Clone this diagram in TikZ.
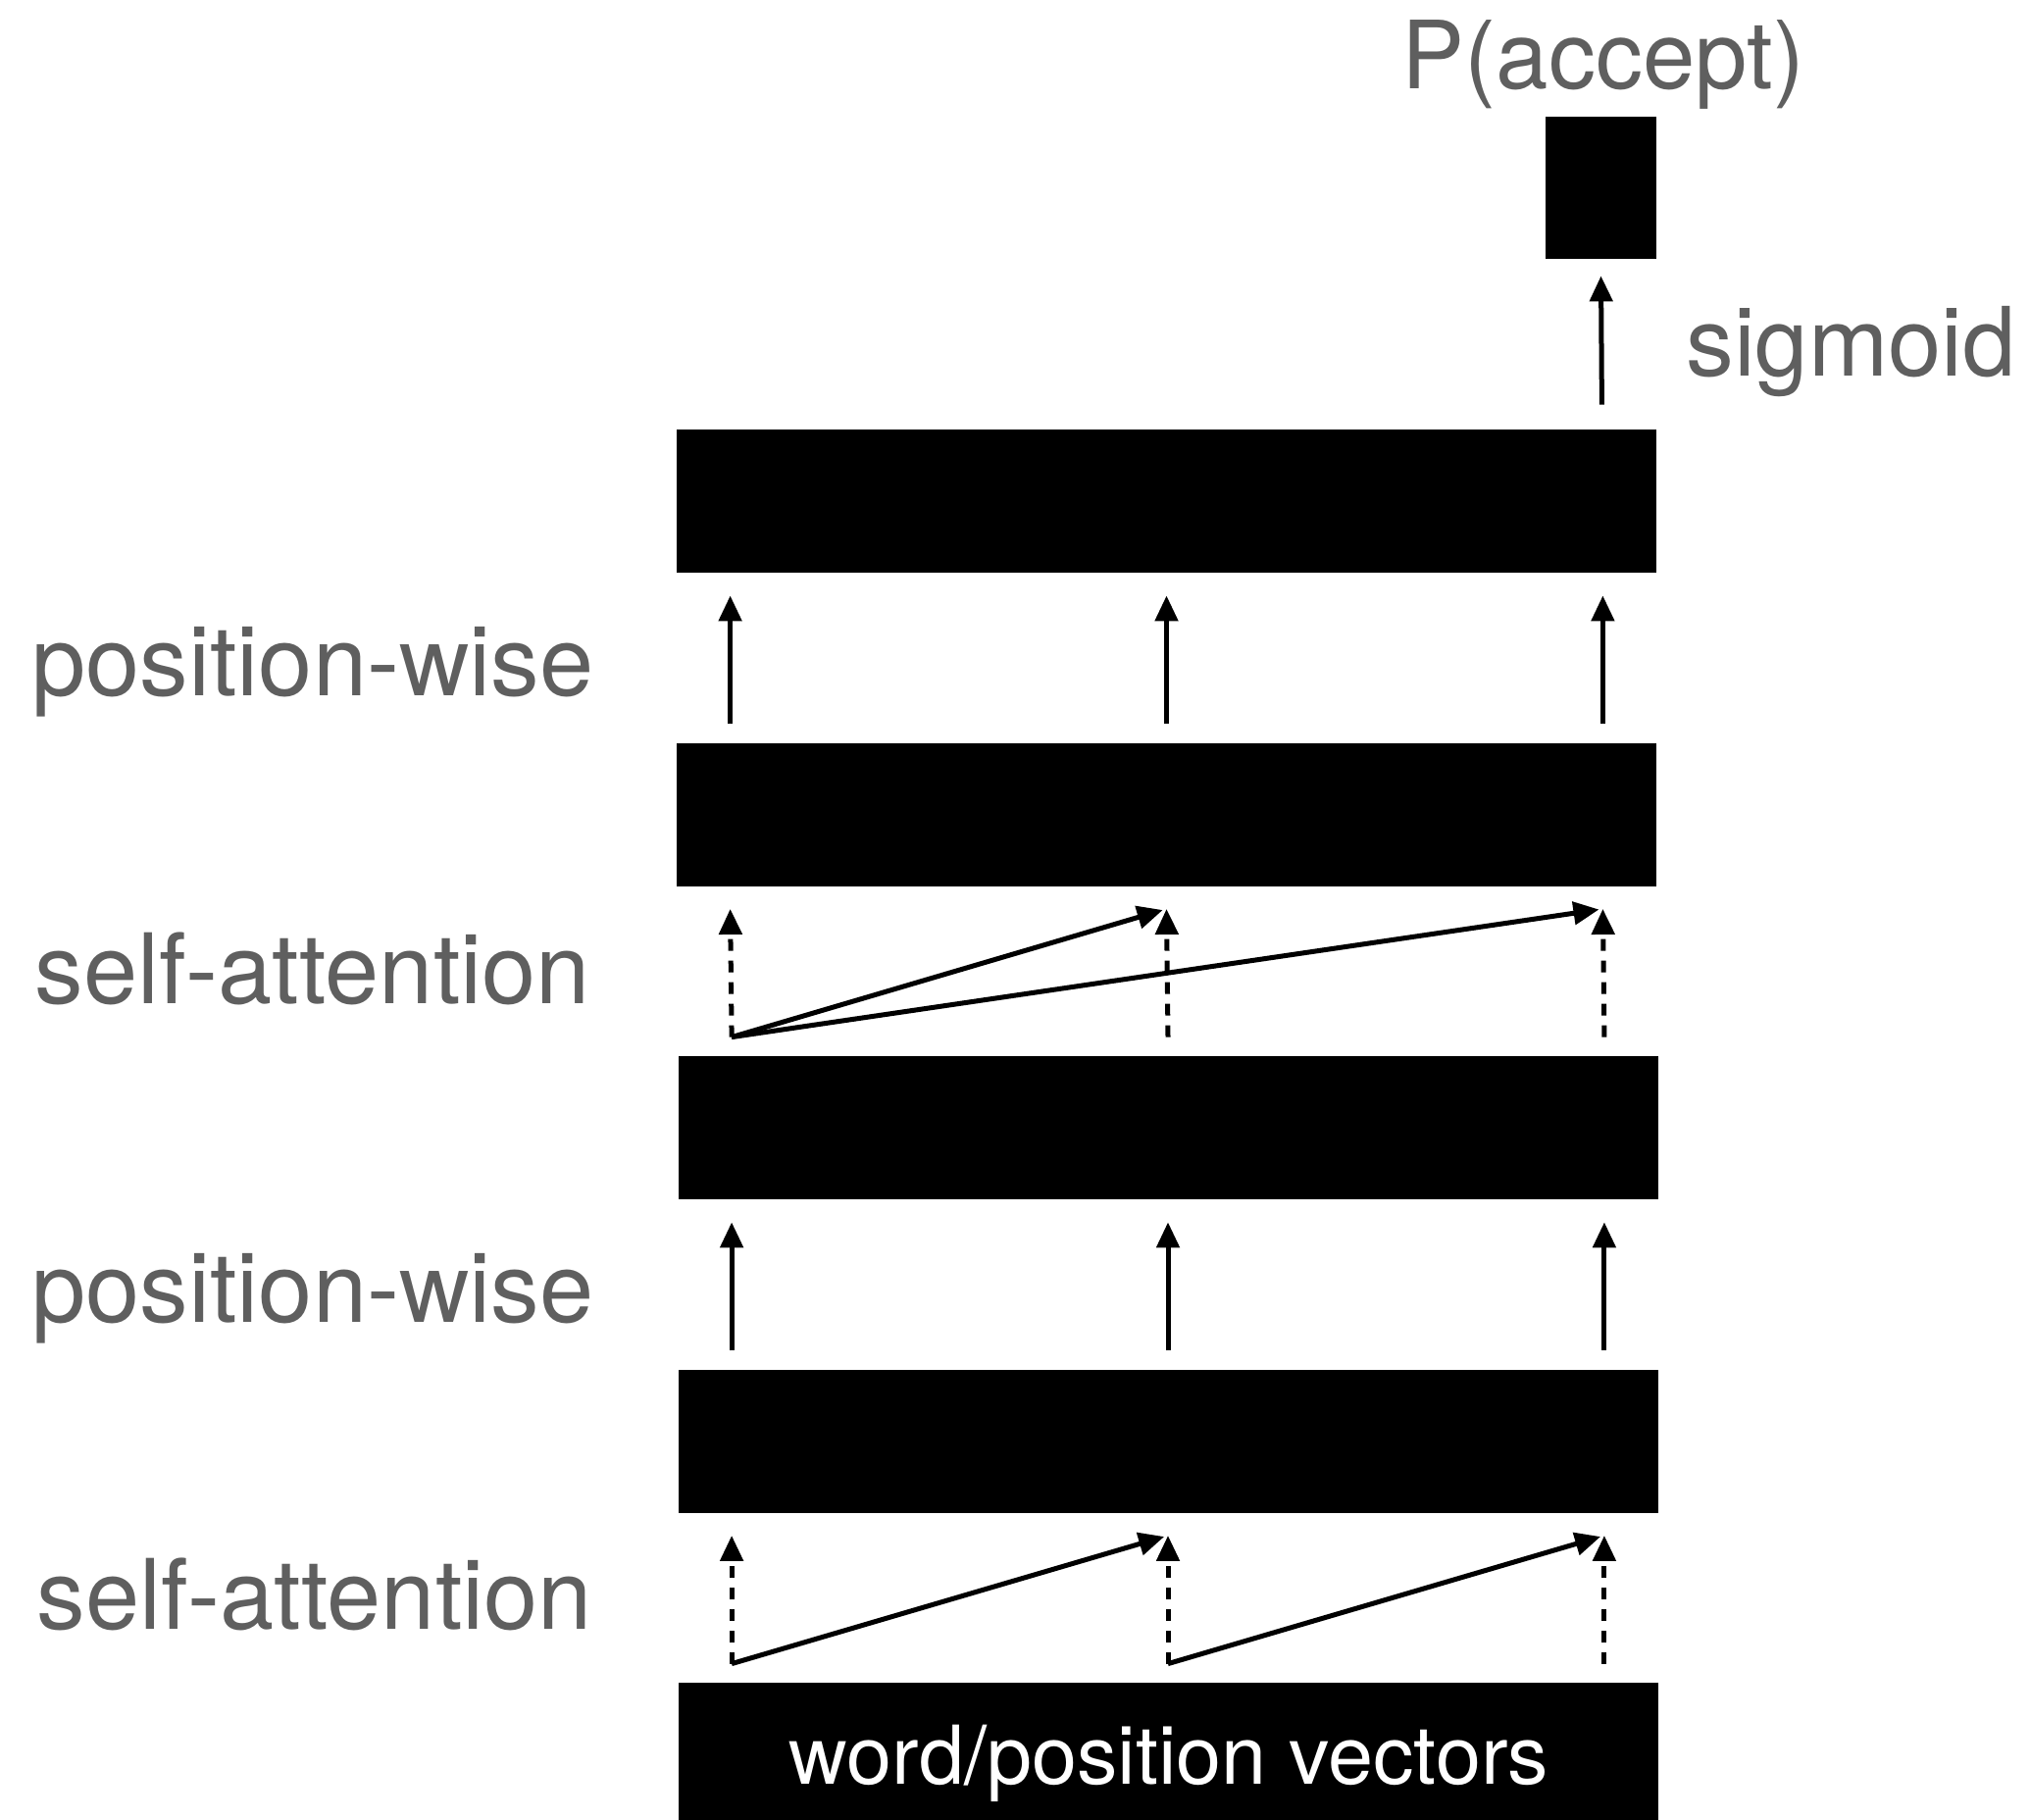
\documentclass[tikz,border=0pt]{standalone}
\usepackage{fontspec}
\setmainfont{TeX Gyre Heros}
\usetikzlibrary{arrows.meta,calc}
\definecolor{labelgrey}{HTML}{5F5F5F}
\begin{document}
\begin{tikzpicture}[x=0.5pt,y=-0.5pt,
  bar/.style={fill=black, inner sep=0pt, minimum width=499.5pt, minimum height=73pt},
  flow/.style={line width=2.5pt, -{Triangle[length=13pt,width=11.5pt]}},
  attn/.style={flow, dash pattern=on 6pt off 5pt},
  lbl/.style={text=labelgrey, font=\fontsize{49.6}{60}\selectfont, inner sep=0pt, anchor=base west},
]
\clip (0,0) rectangle (2070,1856);

% layers, bottom to top
\node[bar] (emb) at (1191,1789) {};
\node[bar] (h1)  at (1191,1469.5) {};
\node[bar] (h2)  at (1191,1150) {};
\node[bar] (h3)  at (1189.5,830.5) {};
\node[bar] (h4)  at (1189.5,511) {};
\node[fill=black, inner sep=0pt, minimum width=56.5pt, minimum height=72.5pt] (out) at (1632.5,191.5) {};

\node[text=white, font=\fontsize{41.4}{50}\selectfont, inner sep=0pt, anchor=base] (embtext) at (1192,1819) {word/position vectors};

% arrow end points in the gaps between layers
\foreach \lo/\hi/\k in {emb/h1/a, h1/h2/b, h2/h3/c, h3/h4/d} {
  \coordinate (\k b1) at ($(\lo.north west)+(55,-19)$);
  \coordinate (\k b2) at ($(\lo.north)+(0,-19)$);
  \coordinate (\k b3) at ($(\lo.north east)+(-55,-19)$);
  \coordinate (\k t1) at ($(\hi.south west)+(55,23)$);
  \coordinate (\k t2) at ($(\hi.south)+(0,23)$);
  \coordinate (\k t3) at ($(\hi.south east)+(-55,23)$);
}

% self-attention (lower): each position attends to its left neighbour
\draw[attn] (ab1) -- (at1);
\draw[attn] (ab2) -- (at2);
\draw[attn] (ab3) -- (at3);
\draw[flow, shorten >=2pt] (ab1) -- (at2);
\draw[flow, shorten >=2pt] (ab2) -- (at3);

% position-wise (lower)
\draw[flow] (bb1) -- (bt1);
\draw[flow] (bb2) -- (bt2);
\draw[flow] (bb3) -- (bt3);

% self-attention (upper): first position feeds all
\draw[attn] (cb1) -- (ct1);
\draw[attn] (cb2) -- (ct2);
\draw[attn] (cb3) -- (ct3);
\draw[flow, shorten >=2pt] (cb1) -- (ct2);
\draw[flow, shorten >=2pt] (cb1) -- (ct3);

% position-wise (upper)
\draw[flow] (db1) -- (dt1);
\draw[flow] (db2) -- (dt2);
\draw[flow] (db3) -- (dt3);

% output
\coordinate (sigb) at ($(h4.north east)+(-56,-25)$);
\coordinate (sigt) at ($(out.south)+(0,17)$);
\draw[flow] (sigb) -- (sigt);

% labels
\node[lbl] (pwA) at (32,709) {position-wise};
\node[lbl] (saA) at (35,1023) {self-attention};
\node[lbl] (pwB) at (32,1348) {position-wise};
\node[lbl] (saB) at (37,1661) {self-attention};
\node[lbl, font=\fontsize{48}{58}\selectfont, anchor=base] (prob) at (1635,91) {P(accept)};
\node[lbl, font=\fontsize{48.8}{58}\selectfont] (sig) at (1719,383) {sigmoid};
\end{tikzpicture}
\end{document}
